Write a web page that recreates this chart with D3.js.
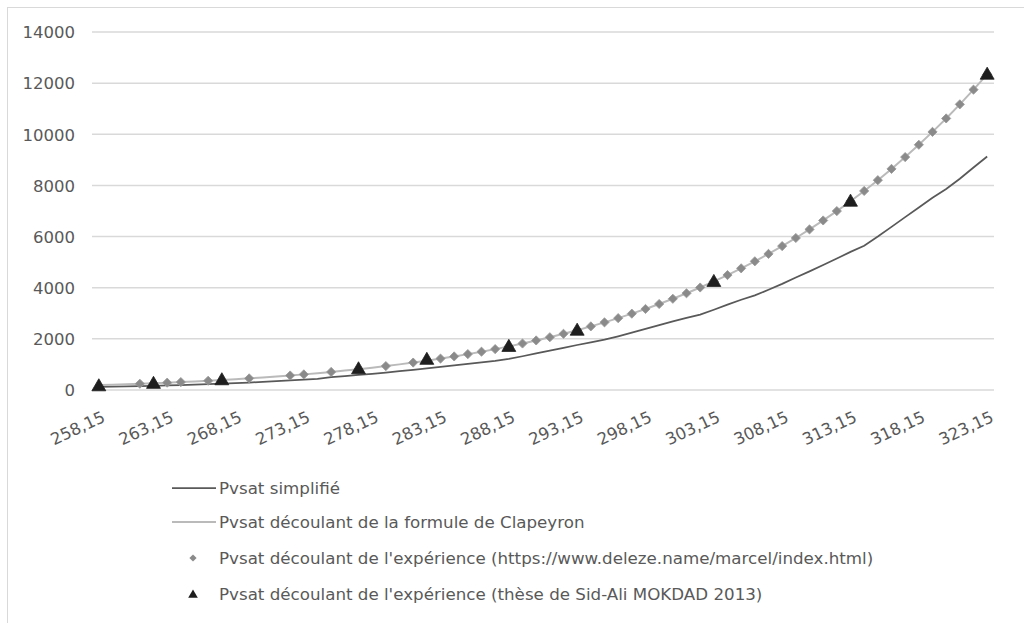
<!DOCTYPE html>
<html>
<head>
<meta charset="utf-8">
<script src="https://cdn.jsdelivr.net/npm/d3@7"></script>
<style>
  body { margin: 0; background: #fff; }
  svg { display: block; }
  text { font-family: "DejaVu Sans", sans-serif; fill: #595959; }
</style>
</head>
<body>
<svg id="graphe" width="1024" height="623"></svg>
<script>
// temperatures (K), axe des categories
var temperatures = ["258,15","259,15","260,15","261,15","262,15","263,15","264,15","265,15","266,15","267,15",
  "268,15","269,15","270,15","271,15","272,15","273,15","274,15","275,15","276,15","277,15",
  "278,15","279,15","280,15","281,15","282,15","283,15","284,15","285,15","286,15","287,15",
  "288,15","289,15","290,15","291,15","292,15","293,15","294,15","295,15","296,15","297,15",
  "298,15","299,15","300,15","301,15","302,15","303,15","304,15","305,15","306,15","307,15",
  "308,15","309,15","310,15","311,15","312,15","313,15","314,15","315,15","316,15","317,15",
  "318,15","319,15","320,15","321,15","322,15","323,15"];

// Pvsat simplifie (Pa)
var pvsatSimplifie = [120,130,141,153,166,180,195,212,230,249,
  270,293,317,343,372,403,437,505,545,588,
  634,683,735,790,850,905,960,1020,1080,1140,
  1220,1320,1430,1540,1650,1760,1860,1970,2100,2240,
  2390,2540,2680,2820,2950,3140,3340,3530,3700,3920,
  4150,4400,4640,4890,5140,5400,5640,6000,6380,6760,
  7140,7520,7860,8260,8700,9130];

// Pvsat formule de Clapeyron (Pa)
var pvsatClapeyron = [191,208,226,245,265,287,310,335,361,389,
  422,455,490,527,568,611,657,706,758,813,
  872,935,1002,1073,1148,1228,1313,1403,1498,1599,
  1706,1818,1938,2064,2198,2339,2488,2645,2810,2985,
  3169,3363,3567,3782,4008,4246,4495,4758,5033,5323,
  5627,5945,6280,6630,6997,7381,7784,8205,8646,9108,
  9590,10094,10620,11171,11745,12344];

// Pvsat experience (deleze.name)
var pvsatDeleze = [null,null,null,245,null,287,310,null,361,null,
  null,455,null,null,568,611,null,706,null,null,
  null,935,null,1073,null,1228,1313,1403,1498,1599,
  1706,1818,1938,2064,2198,2339,2488,2645,2810,2985,
  3169,3363,3567,3782,4008,4246,4495,4758,5033,5323,
  5627,5945,6280,6630,6997,7381,7784,8205,8646,9108,
  9590,10094,10620,11171,11745,12344];

// Pvsat experience (these Sid-Ali MOKDAD 2013)
var pvsatMokdad = [165,null,null,null,260,null,null,null,null,401,
  null,null,null,null,null,null,null,null,null,830,
  null,null,null,null,1200,null,null,null,null,null,
  1705,null,null,null,null,2339,null,null,null,null,
  null,null,null,null,null,4246,null,null,null,null,
  null,null,null,null,null,7384,null,null,null,null,
  null,null,null,null,null,12350];

var yTicks = [0,2000,4000,6000,8000,10000,12000,14000];

var legende = ["Pvsat simplifié",
  "Pvsat découlant de la formule de Clapeyron",
  "Pvsat découlant de l'expérience (https://www.deleze.name/marcel/index.html)",
  "Pvsat découlant de l'expérience (thèse de Sid-Ali MOKDAD 2013)"];

var svg = d3.select("#graphe");

// cadre du graphique
svg.append("rect")
  .attr("x", 7.5).attr("y", 7.5)
  .attr("width", 1040).attr("height", 640)
  .attr("fill", "#fff")
  .attr("stroke", "#d9d9d9")
  .attr("stroke-width", 1);

var x = d3.scalePoint()
  .domain(temperatures)
  .range([92, 994])
  .padding(0.5);

var y = d3.scaleLinear()
  .domain([0, 14000])
  .range([390, 32]);

// grille
svg.append("g")
  .selectAll("line")
  .data(yTicks)
  .enter()
  .append("line")
    .attr("x1", 92).attr("x2", 994)
    .attr("y1", function(d){ return y(d); })
    .attr("y2", function(d){ return y(d); })
    .attr("stroke", "#d9d9d9")
    .attr("stroke-width", 1.5);

// axe y
var axeY = svg.append("g")
  .attr("transform", "translate(75,0)")
  .call(d3.axisLeft(y).tickValues(yTicks).tickSize(0).tickPadding(0).tickFormat(d3.format("d")));
axeY.select(".domain").remove();
axeY.selectAll("text")
  .style("font-size", "16.5px")
  .style("font-family", "'DejaVu Sans', sans-serif")
  .attr("dy", "0.35em")
  .style("fill", "#595959");

// axe x : une etiquette toutes les 5 categories
var axeX = svg.append("g")
  .attr("transform", "translate(0,390)")
  .call(d3.axisBottom(x)
    .tickValues(temperatures.filter(function(d, i){ return i % 5 == 0; }))
    .tickSize(0));
axeX.select(".domain").remove();
axeX.selectAll("text")
  .style("font-size", "16.5px")
  .style("font-family", "'DejaVu Sans', sans-serif")
  .style("fill", "#595959")
  .attr("text-anchor", "end")
  .attr("x", 0)
  .attr("y", 0)
  .attr("dy", 0)
  .attr("transform", "translate(7,31) rotate(-25)");

// courbes
function ligne(valeurs){
  return d3.line()
    .defined(function(d){ return d != null; })
    .x(function(d, i){ return x(temperatures[i]); })
    .y(function(d){ return y(d); })(valeurs);
}

svg.append("path")
  .attr("d", ligne(pvsatSimplifie))
  .attr("fill", "none")
  .attr("stroke", "#595959")
  .attr("stroke-width", 1.75);

svg.append("path")
  .attr("d", ligne(pvsatClapeyron))
  .attr("fill", "none")
  .attr("stroke", "#bababa")
  .attr("stroke-width", 2);

var triangle = d3.symbol().type(d3.symbolTriangle).size(84);

svg.append("g")
  .selectAll("path")
  .data(pvsatDeleze.map(function(v, i){ return {t: temperatures[i], v: v}; })
    .filter(function(d){ return d.v != null; }))
  .enter()
  .append("path")
    .attr("d", d3.symbol().type(d3.symbolSquare).size(42))
    .attr("transform", function(d){ return "translate(" + x(d.t) + "," + y(d.v) + ") rotate(45)"; })
    .attr("fill", "#8a8a8a")
    .attr("stroke", "#9a9a9a")
    .attr("stroke-width", 0.8);

svg.append("g")
  .selectAll("path")
  .data(pvsatMokdad.map(function(v, i){ return {t: temperatures[i], v: v}; })
    .filter(function(d){ return d.v != null; }))
  .enter()
  .append("path")
    .attr("d", triangle)
    .attr("transform", function(d){ return "translate(" + x(d.t) + "," + (y(d.v) + 1) + ")"; })
    .attr("fill", "#1e1e1e")
    .attr("stroke", "#1e1e1e")
    .attr("stroke-width", 0.8);

// legende
var rangs = [488, 522, 558, 594];
var leg = svg.append("g");
for (var k = 0; k < legende.length; k++) {
  var yy = rangs[k];
  if (k == 0 || k == 1) {
    leg.append("line")
      .attr("x1", 172).attr("x2", 216)
      .attr("y1", yy).attr("y2", yy)
      .attr("stroke", k == 0 ? "#595959" : "#bababa")
      .attr("stroke-width", k == 0 ? 1.75 : 2);
  } else if (k == 2) {
    leg.append("path")
      .attr("d", d3.symbol().type(d3.symbolSquare).size(26))
      .attr("transform", "translate(193," + yy + ") rotate(45)")
      .attr("fill", "#8a8a8a");
  } else {
    leg.append("path")
      .attr("d", d3.symbol().type(d3.symbolTriangle).size(40))
      .attr("transform", "translate(193," + (yy + 1) + ")")
      .attr("fill", "#1e1e1e");
  }
  leg.append("text")
    .attr("x", 219)
    .attr("y", yy)
    .attr("dy", "0.35em")
    .style("font-size", "16.7px")
    .text(legende[k]);
}
</script>
</body>
</html>
